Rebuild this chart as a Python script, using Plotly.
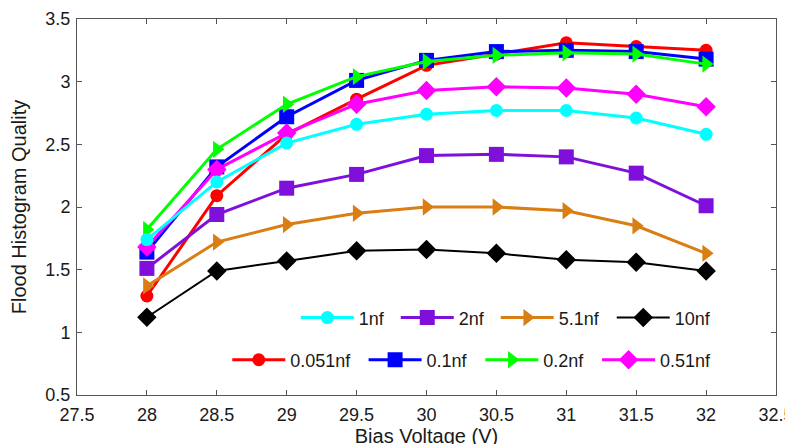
import plotly.graph_objects as go

voltage = [28, 28.5, 29, 29.5, 30, 30.5, 31, 31.5, 32]

q_0051nf = [1.29, 2.09, 2.58, 2.86, 3.13, 3.22, 3.31, 3.28, 3.25]
q_01nf = [1.64, 2.32, 2.72, 3.01, 3.17, 3.24, 3.25, 3.24, 3.18]
q_02nf = [1.82, 2.46, 2.82, 3.04, 3.16, 3.21, 3.23, 3.22, 3.14]
q_051nf = [1.68, 2.30, 2.59, 2.82, 2.93, 2.96, 2.95, 2.90, 2.80]
q_1nf = [1.74, 2.20, 2.51, 2.66, 2.74, 2.77, 2.77, 2.71, 2.58]
q_2nf = [1.51, 1.94, 2.15, 2.26, 2.41, 2.42, 2.40, 2.27, 2.01]
q_51nf = [1.37, 1.72, 1.86, 1.95, 2.00, 2.00, 1.97, 1.85, 1.63]
q_10nf = [1.12, 1.49, 1.57, 1.65, 1.66, 1.63, 1.58, 1.56, 1.49]

x_ticks = [27.5, 28, 28.5, 29, 29.5, 30, 30.5, 31, 31.5, 32, 32.5]
y_ticks = [0.5, 1, 1.5, 2, 2.5, 3, 3.5]

# name, values, colour, symbol, legend slot (x paper, y paper), line width
series = [
    ("0.051nf", q_0051nf, "#FF0000", "circle", (0.215, 0.093), 3),
    ("0.1nf", q_01nf, "#0000FF", "square", (0.410, 0.093), 3),
    ("0.2nf", q_02nf, "#00FF00", "triangle-right", (0.577, 0.093), 3),
    ("0.51nf", q_051nf, "#FF00FF", "diamond", (0.744, 0.093), 3),
    ("1nf", q_1nf, "#00FFFF", "circle", (0.313, 0.205), 3),
    ("2nf", q_2nf, "#7F10DC", "square", (0.456, 0.205), 3),
    ("5.1nf", q_51nf, "#DA7E14", "triangle-right", (0.599, 0.205), 3),
    ("10nf", q_10nf, "#000000", "diamond", (0.765, 0.205), 3),
]

fig = go.Figure()
legends = {}
for i, (name, ys, color, sym, pos, lw) in enumerate(series):
    key = "legend" if i == 0 else f"legend{i+1}"
    fig.add_trace(go.Scatter(
        x=voltage, y=ys, name=name, mode="lines+markers",
        line=dict(color=color, width=lw if name != "10nf" else 2),
        marker=dict(symbol=sym, size=15 if sym != "circle" else 13, color=color),
        legend=key,
    ))
    legends[key] = dict(orientation="h", x=pos[0], y=pos[1], xanchor="left",
                        yanchor="middle", bgcolor="rgba(0,0,0,0)",
                        font=dict(size=18), itemwidth=53)

fam = "Liberation Sans, Arial, sans-serif"
font = dict(family=fam, size=18, color="#1a1a1a")

fig.update_layout(
    width=793, height=444,
    margin=dict(l=69, r=25, t=11, b=57),
    paper_bgcolor="white", plot_bgcolor="white",
    font=font,
    showlegend=True,
    **legends,
    xaxis=dict(range=[27.5, 32.5], tickvals=x_ticks, ticktext=[str(v) for v in x_ticks],
               showgrid=False, zeroline=False, showline=True, linecolor="#555555",
               linewidth=1, mirror="ticks", ticks="inside", ticklen=5, tickcolor="#555555",
               automargin=False, ticklabelstandoff=3,
               title=dict(text="Bias Voltage (V)", standoff=0, font=dict(size=20)),
               tickfont=dict(size=18)),
    yaxis=dict(range=[0.5, 3.5], tickvals=y_ticks, ticktext=[str(v) for v in y_ticks],
               showgrid=False, zeroline=False, showline=True, linecolor="#555555",
               linewidth=1, mirror="ticks", ticks="inside", ticklen=5, tickcolor="#555555",
               automargin=False, ticklabelstandoff=2,
               title=dict(text="Flood Histogram Quality", standoff=25, font=dict(size=20)),
               tickfont=dict(size=18)),
)

fig.write_html("out.html")
